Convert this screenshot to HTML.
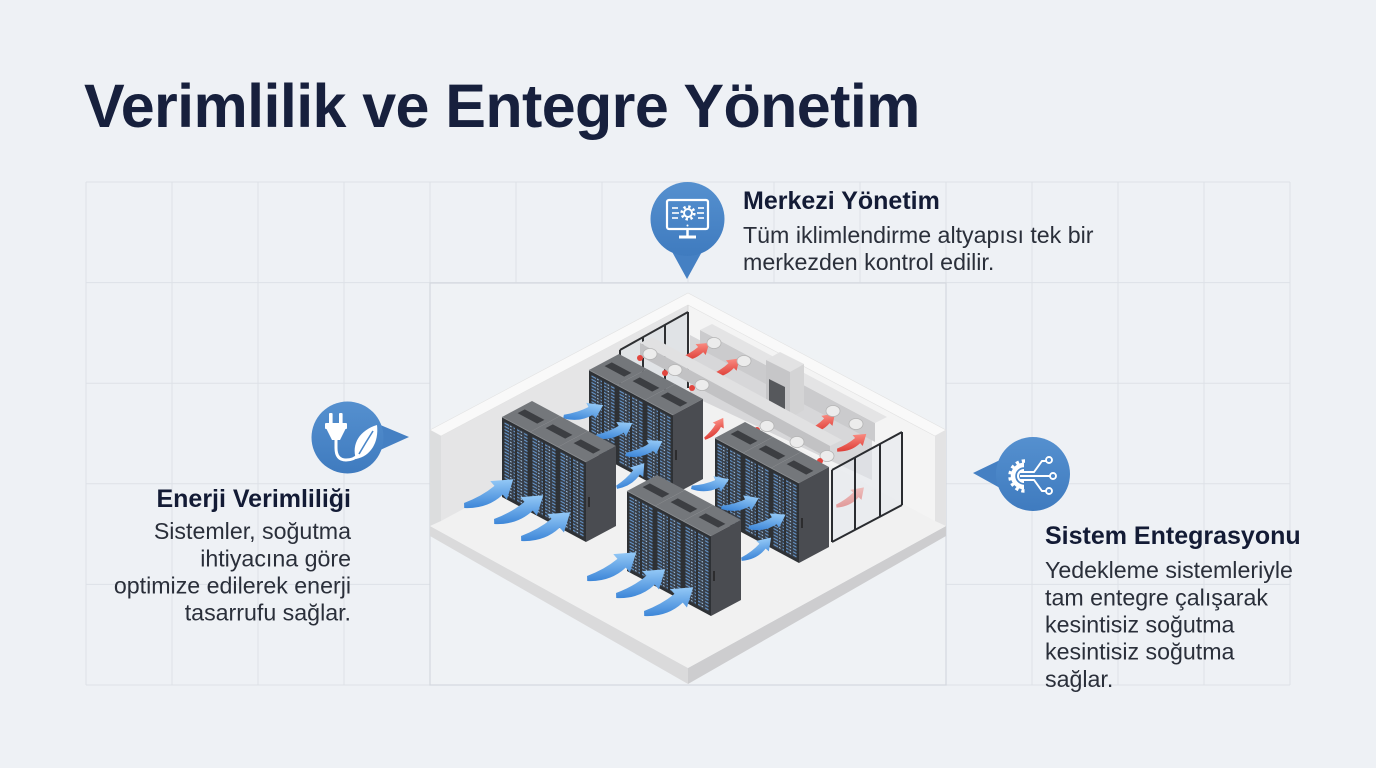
<!DOCTYPE html>
<html><head><meta charset="utf-8">
<style>
html,body{margin:0;padding:0;background:#eef1f5;}
svg{display:block}
text{font-family:"Liberation Sans","DejaVu Sans",sans-serif;}
</style></head>
<body>
<svg width="1376" height="768" viewBox="0 0 1376 768" xmlns="http://www.w3.org/2000/svg">
<defs>
  <linearGradient id="bl" x1="0" y1="0" x2="0" y2="1">
    <stop offset="0" stop-color="#93c8f6"/><stop offset="1" stop-color="#3d86d8"/>
  </linearGradient>
  <linearGradient id="rd" x1="0" y1="0" x2="0" y2="1">
    <stop offset="0" stop-color="#f98a80"/><stop offset="1" stop-color="#de3e37"/>
  </linearGradient>
  <linearGradient id="ic" x1="0" y1="0" x2="0" y2="1">
    <stop offset="0" stop-color="#5590cf"/><stop offset="1" stop-color="#3f7bbf"/>
  </linearGradient>
  <pattern id="led" patternUnits="userSpaceOnUse" width="10.5" height="3.2">
    <rect x="0" y="0" width="10.5" height="3.2" fill="#373e48"/>
    <rect x="1" y="1" width="6" height="1.1" fill="#6a9ed6"/>
    <rect x="8" y="1" width="1.6" height="1.1" fill="#a9cff3"/>
  </pattern>
  <path id="arw" d="M0,1 Q18,-5 31,-15 L27,-20 L50,-21 L43,-1 L39,-6 Q23,8 0,6 Z"/>
  <g id="rk">
    <polygon points="0,0 30,-16 58,-1 28,15" fill="#74777b"/>
    <polygon points="15.6,-3.85 22.8,-7.65 42.4,2.85 35.2,6.65" fill="#3c3e42"/>
    <g transform="matrix(1,0.536,0,1,0,0)">
      <rect x="0" y="0" width="28" height="80" fill="#2e3135"/>
      <rect x="2.5" y="3" width="10.5" height="74" fill="url(#led)"/>
      <rect x="15" y="3" width="10.5" height="74" fill="url(#led)"/>
    </g>
    <line x1="0" y1="0" x2="28" y2="15" stroke="#8d9094" stroke-width="0.8"/>
  </g>
  <g id="rkS">
    <polygon points="28,15 58,-1 58,79 28,95" fill="#4a4c51"/>
    <line x1="31" y1="50" x2="31" y2="60" stroke="#222" stroke-width="1.5"/>
  </g>
</defs>

<rect width="1376" height="768" fill="#eef1f5"/>

<!-- grid -->
<g stroke="#dde1e7" stroke-width="1">
  <line x1="86" y1="182" x2="1290" y2="182"/>
  <line x1="86" y1="282.6" x2="1290" y2="282.6"/>
  <line x1="86" y1="383.2" x2="1290" y2="383.2"/>
  <line x1="86" y1="483.8" x2="1290" y2="483.8"/>
  <line x1="86" y1="584.4" x2="1290" y2="584.4"/>
  <line x1="86" y1="685" x2="1290" y2="685"/>
  <line x1="86" y1="182" x2="86" y2="685"/>
  <line x1="172" y1="182" x2="172" y2="685"/>
  <line x1="258" y1="182" x2="258" y2="685"/>
  <line x1="344" y1="182" x2="344" y2="685"/>
  <line x1="430" y1="182" x2="430" y2="685"/>
  <line x1="516" y1="182" x2="516" y2="685"/>
  <line x1="602" y1="182" x2="602" y2="685"/>
  <line x1="688" y1="182" x2="688" y2="685"/>
  <line x1="774" y1="182" x2="774" y2="685"/>
  <line x1="860" y1="182" x2="860" y2="685"/>
  <line x1="946" y1="182" x2="946" y2="685"/>
  <line x1="1032" y1="182" x2="1032" y2="685"/>
  <line x1="1118" y1="182" x2="1118" y2="685"/>
  <line x1="1204" y1="182" x2="1204" y2="685"/>
  <line x1="1290" y1="182" x2="1290" y2="685"/>
</g>

<!-- panel -->
<rect x="430" y="283" width="516" height="402" fill="#eff2f5" stroke="#d4d8de" stroke-width="1.2"/>

<!-- room shell -->
<polygon points="430,526 688,668 688,684 430,536" fill="#dadadb"/>
<polygon points="688,668 946,526 946,536 688,684" fill="#cdcdcf"/>
<polygon points="430,526 688,388 946,526 688,668" fill="#f1f1f1"/>
<polygon points="441,436 688,305 688,388 441,521" fill="#e5e5e6"/>
<polygon points="688,305 935,436 935,521 688,388" fill="#f4f4f4"/>
<polygon points="430,430 688,293 946,430 935,436 688,305 441,436" fill="#f9f9f9" stroke="#e2e2e2" stroke-width="0.6"/>
<polygon points="430,430 441,436 441,521 430,526" fill="#dcddde"/>
<polygon points="935,436 946,430 946,526 935,521" fill="#e3e3e4"/>
<line x1="688" y1="305" x2="688" y2="388" stroke="#d8d8d8" stroke-width="1"/>

<!-- back equipment -->
<polygon points="690,335 872,432 872,480 690,395" fill="#d7d7d9"/>
<polygon points="700,330 875,423 875,442 700,349" fill="#cbcbcd"/>
<polygon points="700,330 712,324 887,417 875,423" fill="#e4e4e5"/>
<polygon points="766,360 780,352 804,364 790,372" fill="#e2e2e3"/>
<polygon points="766,360 790,372 790,418 766,405" fill="#c6c6c8"/>
<polygon points="790,372 804,364 804,410 790,418" fill="#d4d4d5"/>
<polygon points="769,379 785,387 785,415 769,407" fill="#56585c"/>

<!-- back-left glass -->
<polygon points="620,350 688,312 688,388 620,425" fill="#dde2e6" opacity="0.75"/>
<g stroke="#2e3033" stroke-width="2" fill="none">
  <line x1="620" y1="350" x2="688" y2="312"/>
  <line x1="620" y1="350" x2="620" y2="425"/>
  <line x1="643" y1="337" x2="643" y2="412"/>
  <line x1="665" y1="325" x2="665" y2="400"/>
  <line x1="688" y1="312" x2="688" y2="388"/>
</g>

<!-- red arrows (back) -->
<use href="#arw" fill="url(#rd)" transform="translate(680,357) rotate(-3) scale(.6)"/>
<use href="#arw" fill="url(#rd)" transform="translate(711,374) rotate(-6) scale(.6)"/>
<use href="#arw" fill="url(#rd)" transform="translate(807,430) rotate(-8) scale(.6)"/>
<use href="#arw" fill="url(#rd)" transform="translate(837,448) rotate(-3) scale(.6)"/>

<!-- upper cylinders -->
<g fill="#ececec" stroke="#b5b5b5" stroke-width="0.8">
  <ellipse cx="714" cy="343" rx="7" ry="5.5"/>
  <ellipse cx="744" cy="361" rx="7" ry="5.5"/>
  <ellipse cx="833" cy="411" rx="7" ry="5.5"/>
  <ellipse cx="856" cy="424" rx="7" ry="5.5"/>
</g>

<!-- beam -->
<polygon points="640,343 652,337 842,440 830,446" fill="#e1e1e2"/>
<polygon points="640,343 830,446 830,459 640,356" fill="#c2c2c4"/>
<g fill="#ececec" stroke="#b5b5b5" stroke-width="0.8">
  <ellipse cx="650" cy="354" rx="7" ry="5.5"/>
  <ellipse cx="675" cy="370" rx="7" ry="5.5"/>
  <ellipse cx="702" cy="385" rx="7" ry="5.5"/>
  <ellipse cx="767" cy="426" rx="7" ry="5.5"/>
  <ellipse cx="797" cy="442" rx="7" ry="5.5"/>
  <ellipse cx="827" cy="456" rx="7" ry="5.5"/>
</g>
<g fill="#e2463f">
  <ellipse cx="640" cy="358" rx="3" ry="3"/>
  <ellipse cx="665" cy="373" rx="3" ry="3"/>
  <ellipse cx="692" cy="388" rx="3" ry="3"/>
  <ellipse cx="757" cy="430" rx="3" ry="3"/>
  <ellipse cx="820" cy="461" rx="3" ry="3"/>
</g>
<use href="#arw" fill="url(#rd)" transform="translate(704,437) rotate(-22) scale(.5)"/>
<use href="#arw" fill="url(#rd)" transform="translate(836,504) rotate(-8) scale(.6)"/>

<!-- right glass -->
<polygon points="832,470 902,432 902,505 832,542" fill="#e3e8ec" opacity="0.55"/>
<g stroke="#2a2c30" stroke-width="2" fill="none">
  <line x1="832" y1="470" x2="902" y2="432"/>
  <line x1="832" y1="542" x2="902" y2="505"/>
  <line x1="832" y1="470" x2="832" y2="542"/>
  <line x1="855" y1="457.5" x2="855" y2="529.8"/>
  <line x1="880" y1="444" x2="880" y2="516.6"/>
  <line x1="902" y1="432" x2="902" y2="505"/>
</g>

<!-- row B -->
<use href="#rk" transform="translate(589,370)"/>
<use href="#rk" transform="translate(617,385)"/>
<use href="#rk" transform="translate(645,400)"/>
<use href="#rkS" transform="translate(645,400)"/>
<use href="#arw" fill="url(#bl)" transform="translate(564,414) rotate(10) scale(.74)"/>
<use href="#arw" fill="url(#bl)" transform="translate(596,434) rotate(6) scale(.7)"/>
<use href="#arw" fill="url(#bl)" transform="translate(626,452) rotate(6) scale(.7)"/>
<use href="#arw" fill="url(#bl)" transform="translate(616,485) rotate(-15) scale(.66)"/>

<!-- row D -->
<use href="#rk" transform="translate(715,438)"/>
<use href="#rk" transform="translate(743,453)"/>
<use href="#rk" transform="translate(771,468)"/>
<use href="#rkS" transform="translate(771,468)"/>
<use href="#arw" fill="url(#bl)" transform="translate(692,485) rotate(14) scale(.69)"/>
<use href="#arw" fill="url(#bl)" transform="translate(722,505) rotate(12) scale(.69)"/>
<use href="#arw" fill="url(#bl)" transform="translate(749,525) rotate(7) scale(.7)"/>
<use href="#arw" fill="url(#bl)" transform="translate(741,557) rotate(-10) scale(.66)"/>

<!-- row A -->
<use href="#rk" transform="translate(502,417)"/>
<use href="#rk" transform="translate(530,432)"/>
<use href="#rk" transform="translate(558,447)"/>
<use href="#rkS" transform="translate(558,447)"/>
<use href="#arw" fill="url(#bl)" transform="translate(464,502) rotate(-2)"/>
<use href="#arw" fill="url(#bl)" transform="translate(494,518) rotate(-2)"/>
<use href="#arw" fill="url(#bl)" transform="translate(521,535) rotate(-2)"/>

<!-- row C -->
<use href="#rk" transform="translate(627,491)"/>
<use href="#rk" transform="translate(655,506)"/>
<use href="#rk" transform="translate(683,521)"/>
<use href="#rkS" transform="translate(683,521)"/>
<use href="#arw" fill="url(#bl)" transform="translate(587,575) rotate(-2)"/>
<use href="#arw" fill="url(#bl)" transform="translate(616,592) rotate(-2)"/>
<use href="#arw" fill="url(#bl)" transform="translate(644,610) rotate(-2)"/>

<!-- top icon -->
<polygon points="670,248 704,248 687,279" fill="#4580c3"/>
<circle cx="687.5" cy="219" r="37" fill="url(#ic)"/>
<g stroke="#fff" fill="none">
  <rect x="667" y="200" width="41" height="29" rx="2" stroke-width="2.2"/>
  <line x1="687.5" y1="229" x2="687.5" y2="236" stroke-width="2.5"/>
  <circle cx="688" cy="213" r="4" stroke-width="2"/>
  <circle cx="688" cy="213" r="6.3" stroke-width="2.6" stroke-dasharray="2.4 2.55"/>
  <g stroke-width="1.6">
    <line x1="672" y1="208" x2="678" y2="208"/>
    <line x1="672" y1="213" x2="679" y2="213"/>
    <line x1="672" y1="218" x2="678" y2="218"/>
    <line x1="698" y1="208" x2="704" y2="208"/>
    <line x1="697" y1="213" x2="704" y2="213"/>
    <line x1="698" y1="218" x2="704" y2="218"/>
  </g>
</g>
<rect x="679" y="235.5" width="17" height="3" fill="#fff"/>
<circle cx="687.5" cy="225.5" r="1" fill="#fff"/>

<!-- left icon -->
<polygon points="378,424 378,451 409,437" fill="#4580c3"/>
<circle cx="347.5" cy="437.5" r="36" fill="url(#ic)"/>
<g fill="#fff">
  <rect x="329" y="413" width="3.6" height="11" rx="1"/>
  <rect x="339" y="413" width="3.6" height="11" rx="1"/>
  <rect x="325" y="423" width="22" height="6" rx="1"/>
  <polygon points="326,428 346,428 340,440 332,440"/>
  <path d="M356,459 C351,444 360,430 377,425 C379,442 371,456 356,459 Z"/>
</g>
<path d="M336,439 v9 q0,12 10,12 q8,0 12,-5" stroke="#fff" stroke-width="3" fill="none"/>
<path d="M359,454 Q366,442 373,431" stroke="#4a86c8" stroke-width="1.6" fill="none"/>

<!-- right icon -->
<polygon points="1000,460 1000,488 973,473" fill="#4580c3"/>
<circle cx="1033" cy="474" r="37" fill="url(#ic)"/>
<g stroke="#fff" fill="none">
  <path d="M1024,465 A11,11 0 1 0 1024,487" stroke-width="4.5"/>
  <path d="M1025,461 A14,14 0 1 0 1025,491" stroke-width="3.5" stroke-dasharray="3.2 3"/>
  <path d="M1024,470 A6,6 0 1 0 1024,482" stroke-width="2"/>
  <g stroke-width="1.9">
    <path d="M1020,472 H1034 L1042,461 H1046"/>
    <path d="M1020,476 H1050"/>
    <path d="M1020,480 H1034 L1042,491 H1046"/>
    <circle cx="1049" cy="460" r="3" fill="#4a86c8"/>
    <circle cx="1053" cy="476" r="3" fill="#4a86c8"/>
    <circle cx="1049" cy="491" r="3" fill="#4a86c8"/>
  </g>
</g>

<!-- text -->
<text x="84" y="127" font-size="61" font-weight="bold" letter-spacing="-0.6" fill="#17203d">Verimlilik ve Entegre Yönetim</text>

<text x="743" y="209" font-size="25" font-weight="bold" fill="#131b35">Merkezi Yönetim</text>
<text x="743" y="243" font-size="23.2" fill="#2a2f3a">Tüm iklimlendirme altyapısı tek bir</text>
<text x="743" y="270" font-size="23.2" fill="#2a2f3a">merkezden kontrol edilir.</text>

<text x="351" y="507" font-size="25" font-weight="bold" fill="#131b35" text-anchor="end">Enerji Verimliliği</text>
<g font-size="23.2" fill="#2a2f3a" text-anchor="end">
  <text x="351" y="539">Sistemler, soğutma</text>
  <text x="351" y="566.5">ihtiyacına göre</text>
  <text x="351" y="593.5">optimize edilerek enerji</text>
  <text x="351" y="620.5">tasarrufu sağlar.</text>
</g>

<text x="1045" y="544" font-size="25" font-weight="bold" fill="#131b35">Sistem Entegrasyonu</text>
<g font-size="23.2" fill="#2a2f3a">
  <text x="1045" y="578">Yedekleme sistemleriyle</text>
  <text x="1045" y="605.5">tam entegre çalışarak</text>
  <text x="1045" y="632.5">kesintisiz soğutma</text>
  <text x="1045" y="659.5">kesintisiz soğutma</text>
  <text x="1045" y="687">sağlar.</text>
</g>
</svg>
</body></html>
